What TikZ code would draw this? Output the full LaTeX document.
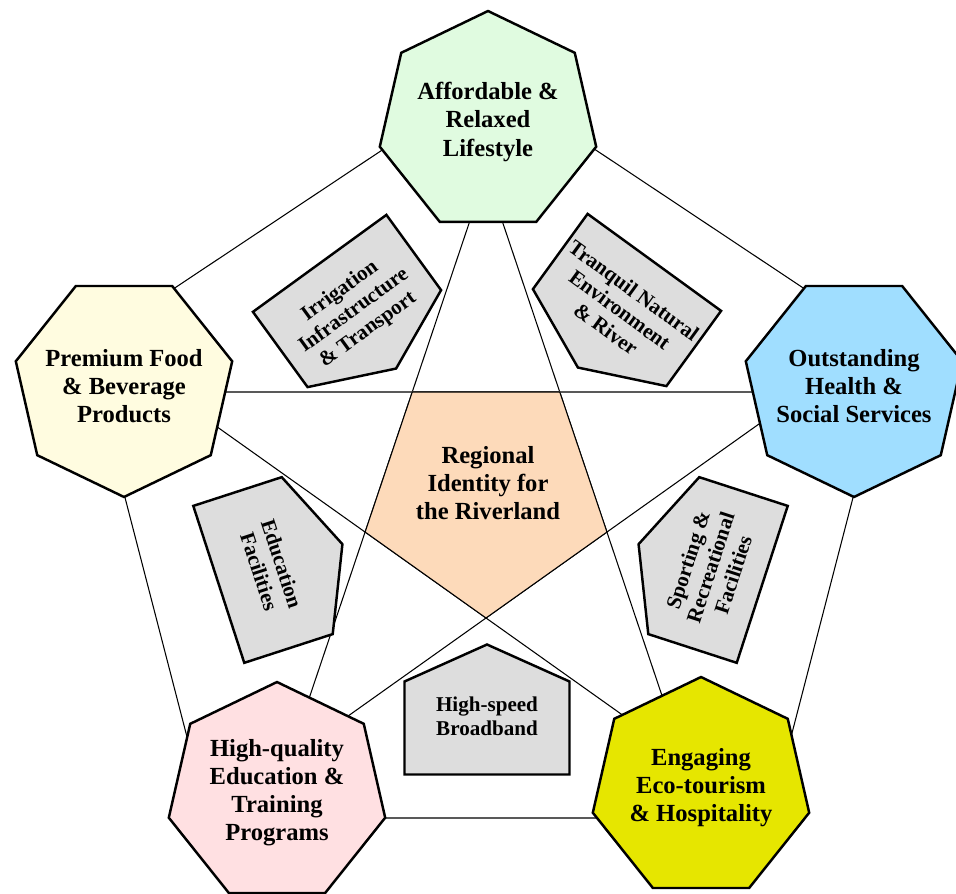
\documentclass[tikz,border=0pt]{standalone}
\usepackage{fontspec}
\setmainfont{Liberation Serif}
\usepackage{tikz}
\usetikzlibrary{shapes.geometric}

\definecolor{mintgreen}{RGB}{224,251,224}
\definecolor{paleyellow}{RGB}{255,252,224}
\definecolor{skyblue}{RGB}{160,222,255}
\definecolor{palepink}{RGB}{255,224,226}
\definecolor{brightyellow}{RGB}{230,230,0}
\definecolor{peach}{RGB}{253,218,186}
\definecolor{boxgrey}{RGB}{221,221,221}

\begin{document}
\begin{tikzpicture}[x=0.02cm,y=0.02cm,
    hepta/.style={draw,line width=1.4pt,regular polygon,regular polygon sides=7,
      minimum size=4.44cm,inner sep=0pt},
    heptatext/.style={align=center,font=\bfseries\fontsize{14}{16}\selectfont},
    housebox/.style={draw,line width=1.4pt,fill=boxgrey},
    boxtext/.style={align=center,font=\bfseries\fontsize{12}{13.5}\selectfont},
    thinline/.style={line width=0.6pt}]

    \useasboundingbox (0,0) rectangle (956,893);

    % outer pentagon and star corners
    \coordinate (oTop)   at (489,814);
    \coordinate (oLeft)  at (86,546);
    \coordinate (oRight) at (892,546);
    \coordinate (oBL)    at (208,75);
    \coordinate (oBR)    at (770,75);

    \coordinate (sTop)   at (486,720);
    \coordinate (sLeft)  at (168,501);
    \coordinate (sRight) at (804,501);
    \coordinate (sBL)    at (289,135);
    \coordinate (sBR)    at (683,135);

    \draw [thinline] (oTop) -- (oRight) -- (oBR) -- (oBL) -- (oLeft) -- cycle;
    \draw [thinline] (sTop) -- (sBL);
    \draw [thinline] (sTop) -- (sBR);
    \draw [thinline] (sLeft) -- (sBR);
    \draw [thinline] (sRight) -- (sBL);
    \draw [line width=1.2pt,black!65] (sLeft) -- (sRight);

    % centre pentagon
    \coordinate (p1) at (intersection of sTop--sBL and sLeft--sRight);
    \coordinate (p2) at (intersection of sTop--sBR and sLeft--sRight);
    \coordinate (p3) at (intersection of sTop--sBR and sRight--sBL);
    \coordinate (p4) at (intersection of sLeft--sBR and sRight--sBL);
    \coordinate (p5) at (intersection of sTop--sBL and sLeft--sBR);
    \draw [thinline,fill=peach] (p1) -- (p2) -- (p3) -- (p4) -- (p5) -- cycle;
    \node (regional) [heptatext] at (488,410) {Regional\\Identity for\\the Riverland};

    % grey boxes
    \begin{scope}[shift={(487,165)}]
      \draw [housebox] (-82.5,-46.5) -- (82.5,-46.5) -- (82.5,46.5) -- (0,83.5) -- (-82.5,46.5) -- cycle;
      \node (broadband) [boxtext] at (0,12) {High-speed\\Broadband};
    \end{scope}
    \begin{scope}[shift={(347,592)},rotate=-144]
      \draw [housebox] (-82.5,-46.5) -- (82.5,-46.5) -- (82.5,46.5) -- (0,83.5) -- (-82.5,46.5) -- cycle;
      \node (irrigation) [boxtext,rotate=36] at (0,12) {Irrigation\\Infrastructure\\\& Transport};
    \end{scope}
    \begin{scope}[shift={(627,593)},rotate=144]
      \draw [housebox] (-82.5,-46.5) -- (82.5,-46.5) -- (82.5,46.5) -- (0,83.5) -- (-82.5,46.5) -- cycle;
      \node (tranquil) [boxtext,rotate=-36] at (0,12) {Tranquil Natural\\Environment\\\& River};
    \end{scope}
    \begin{scope}[shift={(263,323)},rotate=-72]
      \draw [housebox] (-82.5,-46.5) -- (82.5,-46.5) -- (82.5,46.5) -- (0,83.5) -- (-82.5,46.5) -- cycle;
      \node (education) [boxtext,rotate=-72] at (0,8) {Education\\Facilities};
    \end{scope}
    \begin{scope}[shift={(718,323)},rotate=72]
      \draw [housebox] (-82.5,-46.5) -- (82.5,-46.5) -- (82.5,46.5) -- (0,83.5) -- (-82.5,46.5) -- cycle;
      \node (sporting) [boxtext,rotate=72] at (0,8) {Sporting \&\\Recreational\\Facilities};
    \end{scope}

    % heptagons
    \node (lifestyle) [hepta,fill=mintgreen] at (488,771) {};
    \node (lifestyletext) [heptatext] at (lifestyle.center) {Affordable \&\\Relaxed\\Lifestyle};
    \node (food) [hepta,fill=paleyellow,shape border rotate=180] at (124,507) {};
    \node (foodtext) [heptatext] at (food.center) {Premium Food\\\& Beverage\\Products};
    \node (health) [hepta,fill=skyblue,shape border rotate=180] at (854,507) {};
    \node (healthtext) [heptatext] at (health.center) {Outstanding\\Health \&\\Social Services};
    \node (training) [hepta,fill=palepink] at (277,100) {};
    \node (trainingtext) [heptatext] at (training.center) {High-quality\\Education \&\\Training\\Programs};
    \node (tourism) [hepta,fill=brightyellow] at (701,105) {};
    \node (tourismtext) [heptatext] at (tourism.center) {Engaging\\Eco-tourism\\\& Hospitality};

\end{tikzpicture}
\end{document}
